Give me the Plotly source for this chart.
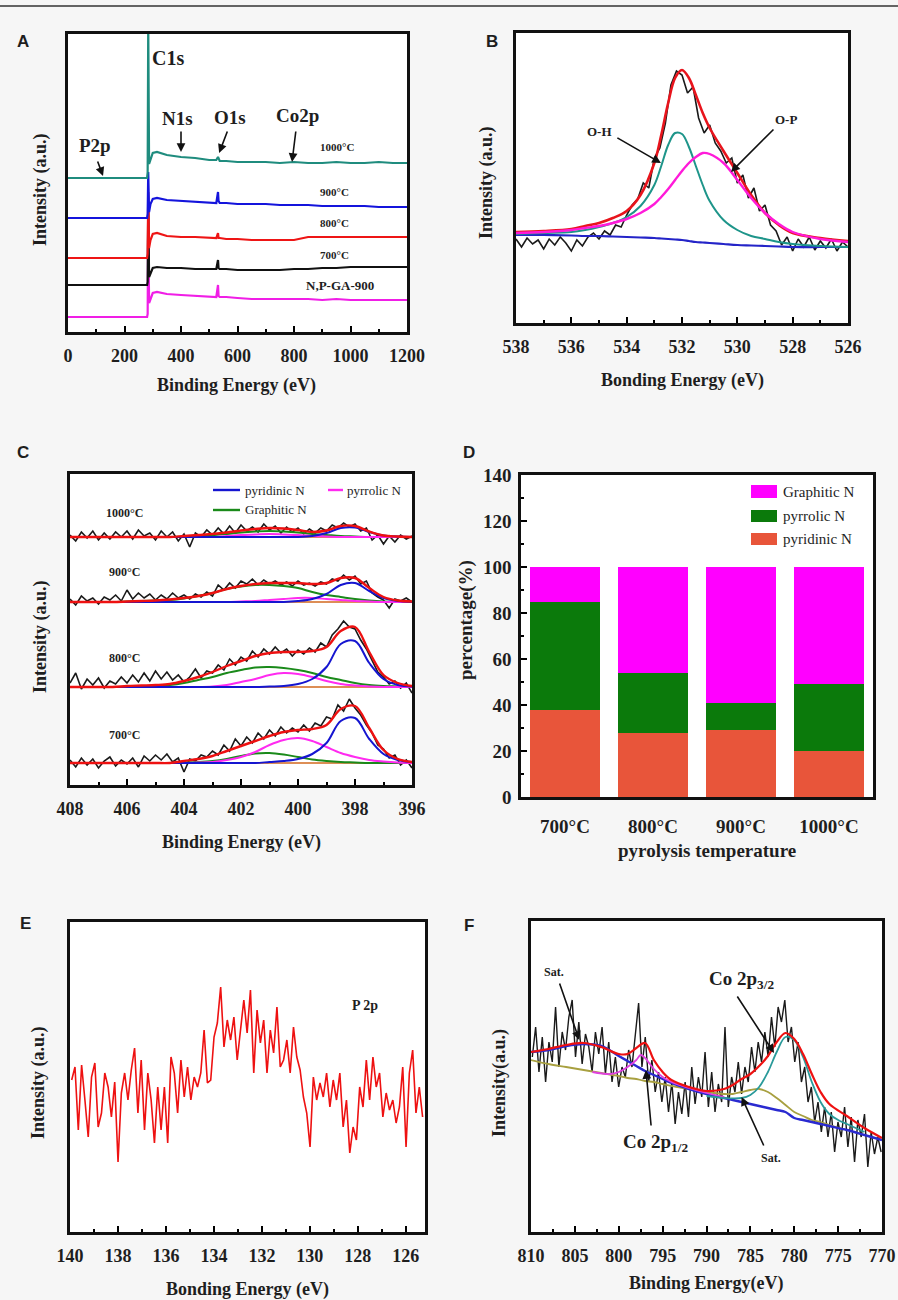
import numpy as np
import plotly.graph_objects as go

W, H = 898, 1300
SERIF = "Liberation Serif"
SANS = "Liberation Sans"
INK = "#1e1e1e"

# ---------------- Panel A : survey spectra ----------------
a_energy = [0, 100, 200, 280, 282, 284, 287, 292, 300, 315, 350, 400, 450, 500, 525, 531, 533, 537,
            560, 600, 650, 700, 750, 800, 850, 900, 950, 1000, 1050, 1100, 1150, 1200]
a_np_ga_900 = [15, 15, 15, 15, 18, 120, 29, 33, 39, 40, 38, 37, 36, 35, 35, 47, 36, 35, 35, 34, 33, 33, 33, 33,
               33, 32, 33, 32, 32, 32, 32, 32]
a_700 = [47, 47, 47, 47, 50, 130, 55, 58, 64, 65, 64, 64, 63, 63, 63, 72, 64, 63, 63, 62, 62, 62, 62, 63, 63, 64,
         64, 65, 65, 65, 65, 65]
a_800 = [74, 74, 74, 74, 78, 140, 84, 92, 98, 99, 96, 95, 95, 94, 94, 99, 94, 94, 93, 93, 92, 92, 92, 92, 95, 95,
         95, 95, 95, 95, 95, 95]
a_900 = [114, 114, 114, 114, 118, 160, 120, 128, 133, 134, 132, 131, 130, 129, 129, 140, 131, 129, 129, 128, 128,
         128, 127, 127, 127, 126, 126, 126, 126, 125, 125, 125]
a_1000 = [154, 154, 154, 154, 160, 310, 168, 172, 179, 180, 177, 175, 174, 172, 172, 175, 173, 171, 171, 170, 170,
          170, 169, 170, 169, 169, 170, 169, 169, 170, 169, 169]
a_series = [("N,P-GA-900", a_np_ga_900, "#f01ee6"), ("700°C", a_700, "#111111"),
            ("800°C", a_800, "#ee1515"), ("900°C", a_900, "#1414dc"), ("1000°C", a_1000, "#1f8c7e")]

# ---------------- Panel B : O 1s ----------------
b_fit_energy = [538, 537, 536, 535.5, 535, 534.5, 534, 533.5, 533, 532.75, 532.5, 532.25, 532, 531.75, 531.5,
                531.25, 531, 530.5, 530, 529.5, 529, 528.5, 528, 527, 526]
b_background = [88, 88, 87.5, 87, 87, 86.5, 86, 85.5, 85, 84.5, 84, 83.5, 83, 82, 81, 80.5, 80, 79, 78, 77.5, 77,
                76.5, 76, 76, 76]
b_oh = [89, 90, 91, 93, 96, 100, 106, 117, 138, 157, 178, 190, 189, 176, 157, 138, 122, 103, 93, 87, 84, 81, 79,
        77, 76]
b_op = [90, 91, 93, 95, 97, 100, 104, 110, 119, 126, 134, 143, 152, 160, 166, 170, 169, 160, 143, 125, 110, 99,
        91, 84, 81]
b_envelope = [91, 92, 94, 97, 100, 105, 112, 128, 160, 188, 220, 245, 253, 245, 228, 210, 195, 172, 150, 128,
              110, 98, 90, 85, 82]
b_raw = [84, 76, 85, 79, 83, 74, 84, 78, 86, 80, 72, 83, 77, 86, 90, 84, 92, 88, 98, 96,
         108, 118, 124, 140, 135, 165, 175, 200, 238, 252, 248, 230, 236, 205, 190, 198, 180, 172, 160, 165,
         140, 148, 125, 135, 112, 118, 98, 92, 78, 86, 72, 84, 76, 86, 73, 82, 75, 84, 72, 81, 76]
b_raw_energy = np.linspace(538.0, 526.0, len(b_raw))

# ---------------- Panel C : N 1s ----------------
c_fit_energy = [408, 407.5, 407, 406.5, 406, 405.5, 405, 404.5, 404, 403.5, 403, 402.5, 402, 401.5, 401, 400.5,
                400, 399.5, 399, 398.5, 398, 397.5, 397, 396.5, 396]
c_samples = ["700°C", "800°C", "900°C", "1000°C"]
c_offset = [22, 98, 183, 248]
c_pyridinic = [
    [0, 0, 0, 0, 0, 0, 0, 0, 0, 0, 0, 0, 0, 0, 1, 2, 4, 9, 20, 42, 45, 24, 9, 3, 1],
    [0, 0, 0, 0, 0, 0, 0, 0, 0, 0, 0, 0, 0, 0, 0.5, 1, 3, 8, 20, 43, 46, 24, 8, 2, 0.5],
    [0, 0, 0, 0, 0, 0, 0, 0, 0, 0, 0, 0, 0, 0, 0, 0, 1, 3, 8, 17, 19, 11, 4, 1, 0],
    [0, 0, 0, 0, 0, 0, 0, 0, 0, 0, 0, 0, 0, 0, 0, 0, 0, 1, 4, 9, 9.5, 5, 1.5, 0.5, 0],
]
c_pyrrolic = [
    [0, 0, 0, 0, 0, 0, 0, 0, 0, 0.5, 1, 3, 6, 11, 18, 23, 25, 22, 16, 10, 6, 3, 1.5, 0.5, 0],
    [0, 0, 0, 0, 0, 0, 0, 0, 0, 0, 0.5, 2, 5, 8, 12, 14, 13, 10, 6, 3, 1.5, 0.5, 0, 0, 0],
    [0, 0, 0, 0, 0, 0, 0, 0, 0, 0, 0, 0, 0.5, 1, 2, 3, 4, 4, 3, 2, 1, 0.5, 0, 0, 0],
    [0, 0, 0, 0, 0, 0, 0, 0, 0, 0, 0, 1, 2, 2.5, 3, 2.5, 2, 1, 0.5, 0, 0, 0, 0, 0, 0],
]
c_graphitic = [
    [0, 0, 0, 0, 0, 0, 0, 0, 0.5, 1, 2, 4, 7, 9.5, 10, 8.5, 6, 3.5, 2, 1, 0.5, 0, 0, 0, 0],
    [0, 0, 0, 0, 0, 0, 1, 2, 4, 7, 10, 14, 17, 19.5, 20, 19, 17, 14, 10, 7, 4, 2, 1, 0.5, 0],
    [0, 0, 0, 0, 0.5, 1, 1.5, 2, 3.5, 6, 9, 13, 15.5, 17, 17, 16, 14, 10, 7, 5, 3, 1.5, 0.5, 0, 0],
    [0, 0, 0, 0, 0, 0, 0, 0, 0.5, 1, 2, 3, 4.5, 5.5, 6, 5.5, 4.5, 3, 2, 1, 0.5, 0, 0, 0, 0],
]
c_envelope = [
    [0, 0, 0, 0, 0, 0, 0, 0, 2, 4, 7, 12, 17, 22, 27, 31, 33, 34, 38, 54, 57, 35, 13, 4, 1],
    [0, 0, 0, 0, 1, 1.5, 2, 3, 6, 10, 15, 21, 26, 31, 34, 35, 35, 36, 40, 56, 60, 35, 12, 4, 1],
    [0, 0, 0, 0, 0.5, 1, 1.5, 2.5, 4, 6, 9, 13, 16, 18, 19, 19, 19, 18, 19, 24, 24, 14, 5, 1.5, 0.5],
    [0, 0, 0, 0, 0, 0, 0, 0, 1, 2, 3, 4.5, 6.5, 8, 9, 8.5, 7, 5, 6.5, 11, 11, 5.5, 1.5, 0.5, 0],
]
c_raw = [
    [3, -4, 5, -2, 4, -5, 2, 6, -3, 3, -1, 5, -4, 7, 2, 8, 3, 9, 1, 5,
     -9, 4, 2, 8, 6, 12, 8, 18, 12, 24, 17, 26, 20, 30, 24, 33, 27, 36, 30, 35,
     31, 38, 32, 40, 37, 46, 44, 58, 52, 64, 55, 48, 38, 30, 18, 14, 5, 8, -2, 3, -5],
    [4, 14, -2, 8, 2, 9, -1, 6, 3, 10, 4, 12, 5, 14, 6, 16, 8, 15, 7, 12,
     5, 10, 18, 9, 16, 14, 22, 17, 28, 22, 30, 26, 36, 30, 38, 33, 40, 34, 38, 31,
     37, 33, 39, 35, 44, 40, 52, 58, 66, 60, 58, 47, 38, 26, 15, 10, 3, 6, -1, 4, -6],
    [3, -3, 6, 1, 4, -2, 5, 2, 7, 1, 12, 3, 9, 4, 8, 2, 7, 3, 9, 4,
     7, 3, 8, 5, 10, 6, 17, 12, 19, 14, 21, 18, 23, 17, 22, 18, 21, 17, 20, 16,
     21, 17, 19, 16, 20, 18, 23, 21, 27, 22, 26, 18, 21, 9, 5, 2, -6, 3, 1, 4, 0],
    [2, -4, 5, -1, 6, -3, 4, -2, 5, 0, 6, -2, 7, 1, 4, -3, 6, 0, 5, -4,
     3, -10, 4, 0, 7, 2, 9, 3, 11, 4, 12, 6, 10, 5, 13, 7, 11, 4, 10, 5,
     9, 3, 8, 4, 9, 6, 12, 9, 14, 10, 13, 6, 9, -3, 2, -7, 1, -5, 2, -2, 1],
]
c_raw_energy = np.linspace(408.0, 396.0, len(c_raw[0]))

# ---------------- Panel D : N species ----------------
d_temps = ["700°C", "800°C", "900°C", "1000°C"]
d_pyridinic = [38, 28, 29, 20]
d_pyrrolic = [47, 26, 12, 29]
d_graphitic = [15, 46, 59, 51]

# ---------------- Panel E : P 2p ----------------
e_raw = [152, 165, 102, 167, 132, 95, 155, 169, 105, 119, 159, 145, 115, 150, 70, 139, 159, 132, 162, 184,
         119, 172, 102, 159, 132, 89, 145, 102, 145, 89, 175, 159, 119, 172, 135, 165, 132, 155, 145, 159,
         202, 149, 152, 195, 209, 245, 185, 212, 192, 215, 172, 205, 232, 199, 242, 159, 222, 189, 212, 159,
         202, 179, 225, 165, 172, 192, 159, 205, 175, 162, 135, 119, 85, 155, 132, 149, 135, 159, 125, 152,
         132, 159, 105, 132, 79, 105, 92, 145, 125, 172, 132, 175, 145, 159, 115, 139, 122, 132, 109, 125,
         165, 85, 159, 182, 119, 145, 115]
e_raw_energy = np.linspace(139.93, 125.3, len(e_raw))

# ---------------- Panel F : Co 2p ----------------
f_fit_energy = [810, 808, 806, 804, 802, 800, 799, 798, 797, 796, 795, 794, 792, 790, 788, 787, 786, 785, 784,
                783, 782, 781, 780, 779, 778, 777, 776, 774, 772, 770]
f_background = [180, 182, 186, 188, 186, 176, 171, 166, 161, 157, 153, 149, 143, 138, 134, 132, 130, 128, 126,
                124, 122, 120, 114, 112, 110, 108, 106, 102, 97, 92]
f_satellite = [172, 168, 165, 162, 159, 156, 154, 153, 151, 150, 148, 146, 143, 140, 138, 138, 140, 142, 143,
               140, 134, 127, 120, 116, 112, 110, 107, 102, 97, 92]
f_envelope = [180, 183, 187, 189, 185, 178, 178, 184, 189, 172, 160, 152, 145, 141, 143, 147, 153, 158, 166,
              176, 190, 199, 193, 178, 158, 140, 128, 116, 104, 94]
f_p12_energy = [803, 801, 800, 799, 798, 797.5, 797, 796, 795, 794, 792, 790, 788]
f_p12 = [160, 158, 160, 165, 172, 177, 174, 163, 155, 150, 144, 139, 135]
f_p32_energy = [790, 788, 786, 785, 784, 783, 782, 781, 780, 779, 778, 777, 776, 775, 774, 772]
f_p32 = [136, 134, 134, 137, 145, 160, 180, 195, 192, 175, 150, 130, 118, 112, 108, 100]
f_raw = [175, 205, 160, 195, 150, 190, 170, 225, 165, 200, 182, 215, 232, 175, 210, 168, 198, 185, 160, 200,
         178, 205, 158, 190, 150, 175, 145, 165, 155, 182, 165, 200, 229, 165, 195, 150, 172, 140, 160, 130,
         155, 120, 150, 108, 140, 118, 150, 115, 165, 128, 155, 135, 180, 125, 160, 120, 148, 130, 205, 125,
         155, 140, 170, 138, 165, 150, 185, 160, 190, 170, 200, 175, 215, 185, 225, 210, 232, 190, 205, 170,
         190, 150, 165, 130, 145, 110, 130, 100, 125, 95, 120, 80, 110, 95, 125, 85, 115, 70, 112, 95,
         118, 65, 100, 78, 95, 80]
f_raw_energy = np.linspace(809.85, 770.1, len(f_raw))

# ================= figure =================
fig = go.Figure()


def line(x, y, color, ax, width=2.0, shape="linear", name=None):
    fig.add_trace(go.Scatter(x=list(x), y=list(y), mode="lines", xaxis="x" + ax, yaxis="y" + ax,
                             line=dict(color=color, width=width, shape=shape, smoothing=1.0),
                             showlegend=False, hoverinfo="skip", name=name or ""))


# A
for name, vals, col in a_series:
    line(a_energy, vals, col, "", width=2.2, name=name)

# B
line(b_raw_energy, b_raw, "#1a1a1a", "2", width=1.6)
line(b_fit_energy, b_background, "#2424c8", "2", width=2.2, shape="spline")
line(b_fit_energy, b_oh, "#1e958a", "2", width=2.0, shape="spline")
line(b_fit_energy, b_envelope, "#e8141c", "2", width=2.6, shape="spline")
line(b_fit_energy, b_op, "#ff1ad9", "2", width=2.4, shape="spline")

# C
for i in range(4):
    off = c_offset[i]
    line(c_raw_energy, [v + off for v in c_raw[i]], "#1a1a1a", "3", width=1.6)
    line([408, 396], [off, off], "#d2691e", "3", width=1.4)
    line(c_fit_energy, [v + off for v in c_graphitic[i]], "#1a8a1a", "3", width=2.0, shape="spline")
    line(c_fit_energy, [v + off for v in c_pyrrolic[i]], "#ff2af0", "3", width=2.0, shape="spline")
    line(c_fit_energy, [v + off for v in c_pyridinic[i]], "#1515d0", "3", width=2.0, shape="spline")
    line(c_fit_energy, [v + off for v in c_envelope[i]], "#ee1111", "3", width=2.4, shape="spline")

# D
d_colors = {"pyridinic N": "#e8553a", "pyrrolic N": "#0b7a0b", "Graphitic N": "#ff00ff"}
for name, vals in [("pyridinic N", d_pyridinic), ("pyrrolic N", d_pyrrolic), ("Graphitic N", d_graphitic)]:
    fig.add_trace(go.Bar(x=d_temps, y=vals, name=name, marker=dict(color=d_colors[name], line=dict(width=0)),
                         width=0.8, xaxis="x4", yaxis="y4", hoverinfo="skip", showlegend=False))

# E
line(e_raw_energy, e_raw, "#ee1111", "5", width=1.6)

# F
line(f_raw_energy, f_raw, "#1a1a1a", "6", width=1.4)
line(f_fit_energy, f_satellite, "#a8a040", "6", width=1.8, shape="spline")
line(f_fit_energy, f_background, "#2a2ad0", "6", width=2.4, shape="spline")
line(f_p12_energy, f_p12, "#e040e0", "6", width=1.8, shape="spline")
line(f_p32_energy, f_p32, "#2a9a9a", "6", width=1.8, shape="spline")
line(f_fit_energy, f_envelope, "#ee1111", "6", width=2.2, shape="spline")

# ---------------- layout ----------------
boxes = {"": (68, 34, 407, 332), "2": (516, 33, 848, 323), "3": (70, 474, 412, 785),
         "4": (521, 475, 873, 797), "5": (70, 922, 425, 1232), "6": (531, 921, 882, 1232)}

tickfont = dict(family=SERIF, size=18, color=INK, weight="bold")
frame = dict(showline=True, linecolor="#111111", linewidth=2.5, mirror=True, showgrid=False, zeroline=False,
             automargin=False)

xspec = {"": dict(range=[0, 1200], dtick=200, minor=100),
         "2": dict(range=[538, 526], dtick=2, minor=1),
         "3": dict(range=[408, 396], dtick=2, minor=1),
         "5": dict(range=[140, 125.2], dtick=2, minor=1),
         "6": dict(range=[810, 770], dtick=5, minor=2.5)}
yspec = {"": [0, 298], "2": [0, 290], "3": [0, 311], "5": [0, 310], "6": [0, 311]}

layout = {}
for k, (x0, y0, x1, y1) in boxes.items():
    xd = [x0 / W, x1 / W]
    yd = [1 - y1 / H, 1 - y0 / H]
    xa = dict(frame, domain=xd, anchor="y" + k, tickfont=tickfont, ticklabelstandoff=6)
    ya = dict(frame, domain=yd, anchor="x" + k)
    if k in xspec:
        s = xspec[k]
        xa.update(range=s["range"], dtick=s["dtick"], tick0=0, ticks="inside", ticklen=6, tickwidth=1.6,
                  tickcolor="black",
                  minor=dict(ticks="inside", ticklen=3, tickwidth=1.6, tickcolor="black", dtick=s["minor"]))
        ya.update(range=yspec[k], showticklabels=False, ticks="")
    else:
        xa.update(type="category", ticks="", ticklabelstandoff=10, range=[-0.5, 3.5],
                  tickfont=dict(tickfont, size=19))
        ya.update(range=[0, 140], dtick=20, ticks="inside", ticklen=6, tickwidth=1.6, tickcolor="black",
                  tickfont=dict(tickfont, size=19), ticklabelstandoff=3,
                  minor=dict(ticks="inside", ticklen=3, tickwidth=1.6, tickcolor="black", dtick=10))
    layout["xaxis" + k] = xa
    layout["yaxis" + k] = ya

ann = []
shapes = []


def P(px, py):
    return px / W, 1 - py / H


def ptext(px, py, text, size=18, family=SERIF, angle=0, anchor="center", weight="bold"):
    x, y = P(px, py)
    ann.append(dict(x=x, y=y, xref="paper", yref="paper", text=text, showarrow=False, textangle=angle,
                    xanchor=anchor, yanchor="middle",
                    font=dict(family=family, size=size, color=INK, weight=weight)))


def dtext(ax, x, y, text, size=12, anchor="center"):
    ann.append(dict(x=x, y=y, xref="x" + ax, yref="y" + ax, text=text, showarrow=False, xanchor=anchor,
                    yanchor="middle", font=dict(family=SERIF, size=size, color=INK, weight="bold")))


def arrow(ax, tail, head):
    ann.append(dict(x=head[0], y=head[1], ax=tail[0], ay=tail[1], xref="x" + ax, yref="y" + ax,
                    axref="x" + ax, ayref="y" + ax, text="", showarrow=True, arrowhead=2, arrowsize=1.1,
                    arrowwidth=1.6, arrowcolor="#111111"))


# panel letters
for lab, px, py in [("A", 23, 42), ("B", 492, 42), ("C", 23, 452), ("D", 469, 452), ("E", 25, 923),
                    ("F", 469, 925)]:
    ptext(px, py, lab, size=17, family=SANS)

# axis titles
ptext(237, 386, "Binding Energy (eV)")
ptext(40, 190, "Intensity (a.u.)", angle=-90)
ptext(682, 380, "Bonding Energy (eV)")
ptext(487, 183, "Intensity (a.u.)", angle=-90)
ptext(241, 842, "Binding Energy (eV)")
ptext(40, 637, "Intensity (a.u.)", angle=-90)
ptext(707, 850, "pyrolysis temperature", size=19)
ptext(466, 620, "percentage(%)", size=19, angle=-90)
ptext(247, 1289, "Bonding Energy (eV)")
ptext(38, 1083, "Intensity (a.u.)", angle=-90)
ptext(706, 1283, "Binding Energy(eV)")
ptext(499, 1083, "Intensity(a.u.)", angle=-90)

# panel A labels
dtext("", 354, 274, "C1s", size=20)
dtext("", 96, 187, "P2p", size=19)
dtext("", 389, 214, "N1s", size=19)
dtext("", 573, 215, "O1s", size=19)
dtext("", 814, 217, "Co2p", size=19)
for txt, x, y, s in [("1000°C", 952, 185, 11), ("900°C", 945, 140, 11), ("800°C", 945, 109, 11),
                     ("700°C", 945, 77, 11), ("N,P-GA-900", 963, 47, 13)]:
    dtext("", x, y, txt, size=s)
arrow("", (103, 172), (124, 156))
arrow("", (400, 202), (400, 180))
arrow("", (566, 202), (535, 179))
arrow("", (807, 202), (793, 170))

# panel B labels
dtext("2", 535.0, 191, "O-H", size=13)
dtext("2", 528.24, 203, "O-P", size=13)
arrow("2", (534.39, 186), (532.76, 160))
arrow("2", (528.64, 195), (530.23, 151))

# panel C labels and legend key
for txt, y in zip(c_samples, [50, 127, 213, 272]):
    dtext("3", 406.1, y, txt, size=12)
for (x0, x1, py, col, txt, tx) in [(213, 240, 490, "#1515d0", "pyridinic N", 243),
                                    (328, 343, 490, "#ff2af0", "pyrrolic N", 345),
                                    (213, 240, 510, "#1a8a1a", "Graphitic N", 243)]:
    shapes.append(dict(type="line", xref="paper", yref="paper", x0=x0 / W, x1=x1 / W, y0=1 - py / H,
                       y1=1 - py / H, line=dict(color=col, width=2.4)))
    ptext(tx, py, txt, size=13, anchor="left", weight="normal")

# panel D legend key
for (name, py0, py1) in [("Graphitic N", 485, 498), ("pyrrolic N", 510, 522), ("pyridinic N", 533, 545)]:
    shapes.append(dict(type="rect", xref="paper", yref="paper", x0=751 / W, x1=777 / W, y0=1 - py1 / H,
                       y1=1 - py0 / H, fillcolor=d_colors[name], line=dict(width=0)))
    ptext(781, (py0 + py1) / 2, name, size=15, anchor="left", weight="normal")

# panel E label
dtext("5", 127.7, 227, "P 2p", size=14)

# panel F labels
dtext("6", 807.4, 260, "Sat.", size=12)
dtext("6", 782.6, 74, "Sat.", size=12)
dtext("6", 786.0, 252, "Co 2p<sub>3/2</sub>", size=19)
dtext("6", 795.8, 89, "Co 2p<sub>1/2</sub>", size=19)
arrow("6", (806.8, 250), (804.5, 192))
arrow("6", (786.6, 237), (782.3, 179))
arrow("6", (796.3, 105), (796.9, 162))
arrow("6", (783.4, 85), (786.0, 135))

# top rule
shapes.append(dict(type="line", xref="paper", yref="paper", x0=0, x1=1, y0=1 - 6 / H, y1=1 - 6 / H,
                   line=dict(color="#333333", width=1.5)))

fig.update_layout(
    width=W, height=H, margin=dict(l=0, r=0, t=0, b=0, pad=0, autoexpand=False),
    paper_bgcolor="#f6f6f6", plot_bgcolor="white",
    barmode="stack", bargap=0.2,
    showlegend=False,
    annotations=ann, shapes=shapes,
    **layout,
)

fig.write_html("out.html")
